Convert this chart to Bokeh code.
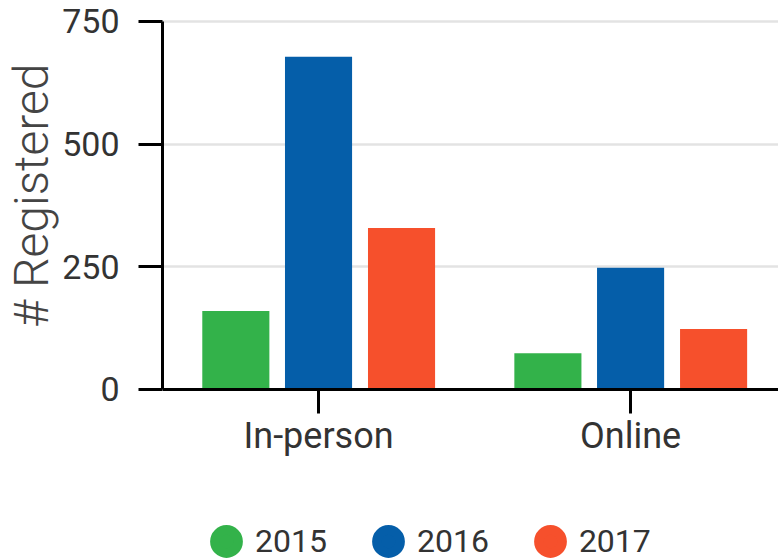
from bokeh.plotting import figure
from bokeh.models import Range1d, FixedTicker, Legend, LegendItem, ColumnDataSource, Title
from bokeh.transform import dodge
from bokeh.embed import file_html
from bokeh.resources import INLINE

categories = ["In-person", "Online"]
years = ["2015", "2016", "2017"]
values_2015 = [160, 74]
values_2016 = [678, 248]
values_2017 = [329, 123]
series = [values_2015, values_2016, values_2017]
colors = ["#33b24a", "#055ea9", "#f6502c"]
y_ticks = [0, 250, 500, 750]
y_title = "# Registered"

xpos = [i + 0.5 for i in range(len(categories))]
data = dict(x=xpos, cat=categories)
for yr, vals in zip(years, series):
    data["v" + yr] = vals
source = ColumnDataSource(data)

# frame spans from just above the value axis down to the bottom of the page;
# the value range below 0 leaves room for the category labels and the legend
p = figure(width=778, height=559,
           x_range=Range1d(0, 1.974), y_range=Range1d(-346.5, 754),
           output_backend="svg", toolbar_location=None,
           min_border_left=162, min_border_right=0,
           min_border_top=19, min_border_bottom=0)

offsets = [-0.265, 0.0, 0.266]
nan = float("nan")
legend_items = []
for yr, col, off in zip(years, colors, offsets):
    p.vbar(x=dodge("x", off, range=p.x_range), top="v" + yr, width=0.215,
           fill_color=col, line_color=None, source=source)
    r = p.scatter(x=[nan], y=[nan], marker="circle", fill_color=col,
                  line_color=col, line_width=9.6)
    legend_items.append(LegendItem(label=yr, renderers=[r]))

legend = Legend(items=legend_items, location=(35, -11), orientation="horizontal",
                glyph_width=58, glyph_height=58, label_standoff=0, spacing=32,
                padding=0, margin=0, border_line_color=None, background_fill_alpha=0,
                label_text_font="Roboto", label_text_font_size="32px",
                label_text_color="#333333")
p.add_layout(legend)

p.outline_line_color = None
p.background_fill_color = "white"
p.xgrid.visible = False
p.ygrid.grid_line_color = "#e3e3e3"
p.ygrid.grid_line_width = 2.5

ya = p.yaxis[0]
ya.ticker = FixedTicker(ticks=y_ticks)
ya.bounds = (y_ticks[0], y_ticks[-1])
ya.major_tick_out = 24
ya.major_tick_in = 0
ya.minor_tick_out = 0
ya.minor_tick_in = 0
ya.axis_line_width = 3
ya.major_tick_line_width = 3
ya.major_label_text_font = "Roboto"
ya.major_label_text_font_size = "34px"
ya.major_label_text_color = "#333333"
ya.major_label_standoff = 19

p.add_layout(Title(text=y_title, align="right", offset=44,
                   text_font="Roboto Light", text_font_size="48px",
                   text_font_style="normal", text_color="#444444",
                   standoff=0), "left")

xa = p.xaxis[0]
xa.fixed_location = 0
xa.ticker = FixedTicker(ticks=xpos)
xa.major_label_overrides = {x: c for x, c in zip(xpos, categories)}
xa.major_tick_out = 24
xa.major_tick_in = 0
xa.minor_tick_out = 0
xa.minor_tick_in = 0
xa.axis_line_width = 3
xa.major_tick_line_width = 3
xa.major_label_text_font = "Roboto"
xa.major_label_text_font_size = "36px"
xa.major_label_text_color = "#333333"
xa.major_label_standoff = 2

open("out.html", "w").write(file_html(p, INLINE))
